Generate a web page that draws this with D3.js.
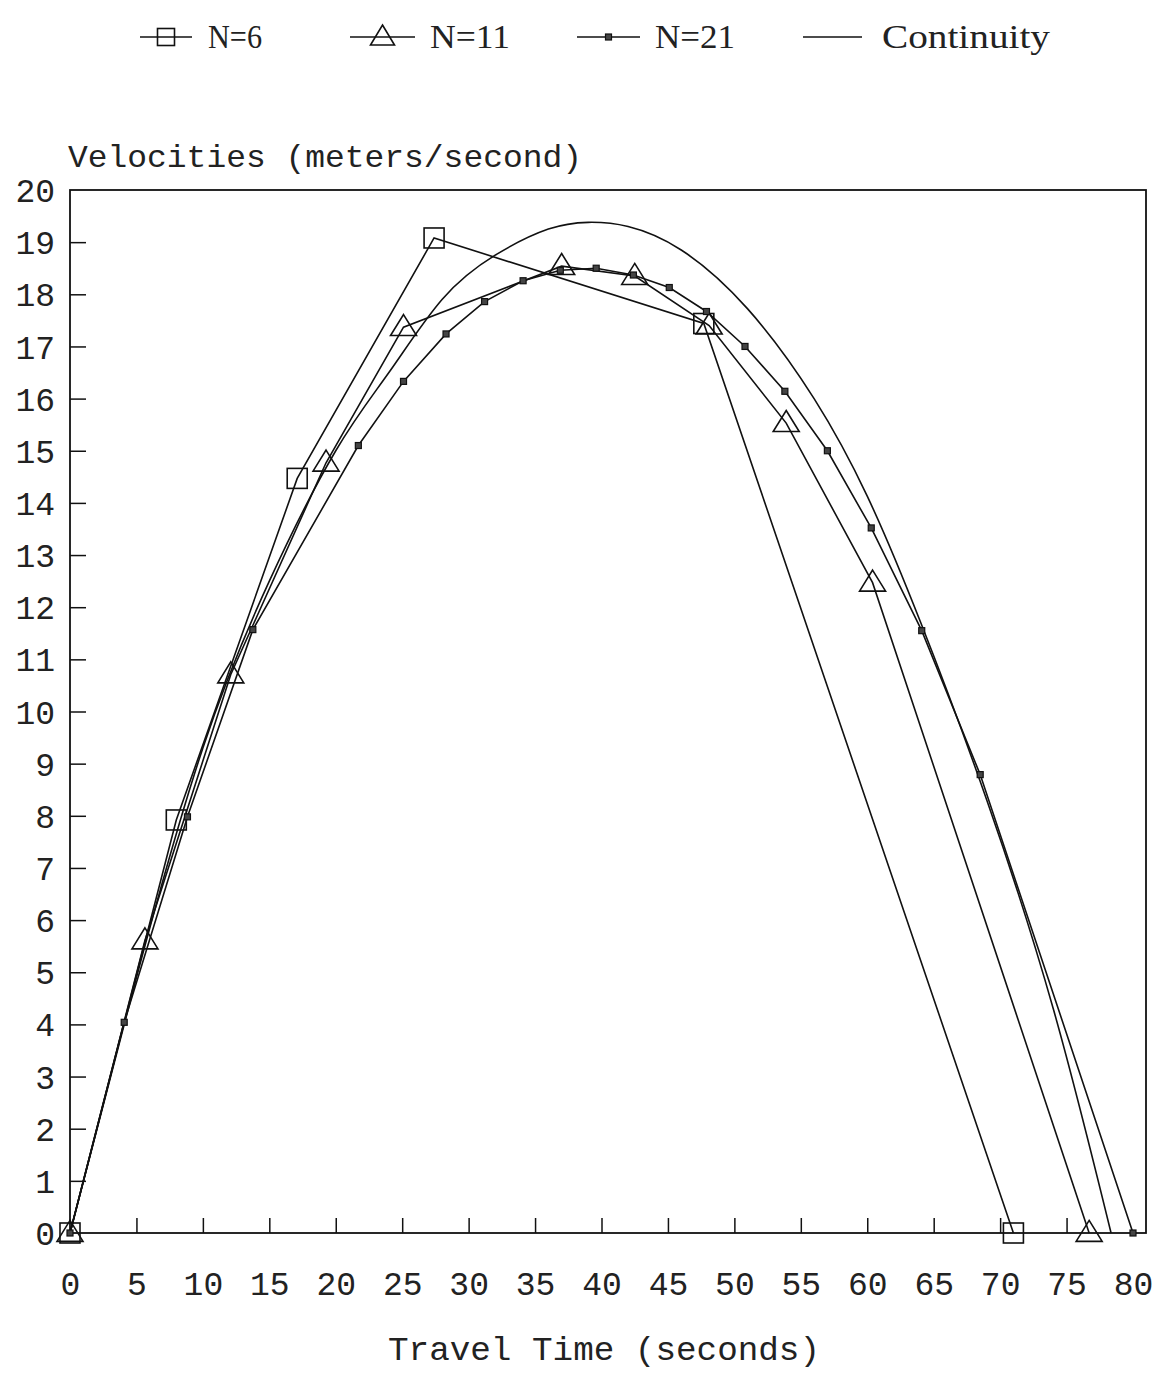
<!DOCTYPE html>
<html>
<head>
<meta charset="utf-8">
<script src="https://cdn.jsdelivr.net/npm/d3@7"></script>
<style>
  html, body { margin: 0; padding: 0; background: #fff; }
  svg { display: block; }
</style>
</head>
<body>
<svg id="chart" width="1169" height="1379"></svg>
<script>
// Travel time (s) and velocity (m/s) for each discretisation
const n6Time  = [0, 8.0, 17.1, 27.4, 47.7, 71.0];
const n6Vel   = [0, 7.92, 14.47, 19.08, 17.44, 0];

const n11Time = [0, 5.64, 12.1, 19.27, 25.1, 37.0, 42.5, 48.1, 53.9, 60.4, 76.7];
const n11Vel  = [0, 5.61, 10.71, 14.77, 17.37, 18.54, 18.35, 17.4, 15.53, 12.47, 0];

const n21Time = [0, 4.08, 8.84, 13.76, 21.7, 25.1, 28.3, 31.2, 34.1, 36.9, 39.6,
                 42.4, 45.1, 47.9, 50.8, 53.8, 57.0, 60.3, 64.1, 68.5, 80.0];
const n21Vel  = [0, 4.04, 7.98, 11.57, 15.1, 16.33, 17.24, 17.86, 18.26, 18.46, 18.5,
                 18.37, 18.13, 17.67, 17.0, 16.14, 15.0, 13.52, 11.55, 8.79, 0];

// Continuous solution
const contTime = [0, 5, 10, 15, 20, 24, 28, 32, 36, 39, 42, 46,
                  51, 56, 60, 64, 69, 74, 78.35];
const contVel  = [0, 4.9, 9.3, 12.5, 15.0, 16.5, 17.9, 18.75, 19.25, 19.38, 19.3, 18.85,
                  17.72, 16.0, 14.13, 11.72, 8.3, 4.3, 0];

const xTicks = d3.range(0, 81, 5);
const yTicks = d3.range(0, 21, 1);
const legendLabels = ["N=6", "N=11", "N=21", "Continuity"];

const svg = d3.select("#chart");
const frameLeft = 70, frameRight = 1146, frameTop = 190, frameBottom = 1233;

const x = d3.scaleLinear().domain([0, 80]).range([frameLeft, 1133]);
const y = d3.scaleLinear().domain([0, 20]).range([frameBottom, frameTop]);

const ink = "#111";
const monoFont = "'Liberation Mono', 'DejaVu Sans Mono', monospace";
const serifFont = "'Liberation Serif', 'DejaVu Serif', serif";

// Frame
svg.append("rect")
  .attr("x", frameLeft).attr("y", frameTop)
  .attr("width", frameRight - frameLeft).attr("height", frameBottom - frameTop)
  .attr("fill", "none").attr("stroke", ink).attr("stroke-width", 1.8);

// X axis: inward ticks, labels below
const xAxis = svg.append("g")
  .attr("transform", `translate(0,${frameBottom})`)
  .call(d3.axisBottom(x).tickValues(xTicks).tickSizeInner(-15).tickSizeOuter(0).tickPadding(40)
        .tickFormat(d3.format("d")));
xAxis.select(".domain").remove();
xAxis.selectAll(".tick line")
  .attr("stroke", ink).attr("stroke-width", 1.5)
  .attr("display", d => (d === 0 || d === 80) ? "none" : null);
xAxis.selectAll(".tick text")
  .attr("font-family", monoFont).attr("font-size", 33).attr("fill", "#222")
  .attr("dy", "0.35em").attr("y", 50);

// Y axis: inward ticks, labels left
const yAxis = svg.append("g")
  .attr("transform", `translate(${frameLeft},0)`)
  .call(d3.axisLeft(y).tickValues(yTicks).tickSizeInner(-16).tickSizeOuter(0).tickPadding(14)
        .tickFormat(d3.format("d")));
yAxis.select(".domain").remove();
yAxis.selectAll(".tick line")
  .attr("stroke", ink).attr("stroke-width", 1.5)
  .attr("display", d => (d === 0 || d === 20) ? "none" : null);
yAxis.selectAll(".tick text")
  .attr("font-family", monoFont).attr("font-size", 33).attr("fill", "#222")
  .attr("x", -15).attr("dy", "0.35em");

// Axis titles
svg.append("text")
  .attr("x", 68).attr("y", 167)
  .attr("font-family", monoFont).attr("font-size", 32).attr("fill", "#222")
  .attr("textLength", 514).attr("lengthAdjust", "spacingAndGlyphs")
  .text("Velocities (meters/second)");

svg.append("text")
  .attr("x", 604).attr("y", 1360).attr("text-anchor", "middle")
  .attr("font-family", monoFont).attr("font-size", 33).attr("fill", "#222")
  .attr("textLength", 432).attr("lengthAdjust", "spacingAndGlyphs")
  .text("Travel Time (seconds)");

// Series lines
const zip = (ts, vs) => ts.map((t, i) => [t, vs[i]]);
const n6 = zip(n6Time, n6Vel);
const n11 = zip(n11Time, n11Vel);
const n21 = zip(n21Time, n21Vel);
const cont = zip(contTime, contVel);

const straight = d3.line().x(d => x(d[0])).y(d => y(d[1]));
const smooth = d3.line().x(d => x(d[0])).y(d => y(d[1])).curve(d3.curveNatural);

const plot = svg.append("g");
plot.append("path").attr("d", smooth(cont))
  .attr("fill", "none").attr("stroke", ink).attr("stroke-width", 1.6);
[n6, n11, n21].forEach(s => {
  plot.append("path").attr("d", straight(s))
    .attr("fill", "none").attr("stroke", ink).attr("stroke-width", 1.6);
});

// Marker shapes
function square(g, cx, cy, s) {
  g.append("rect").attr("x", cx - s / 2).attr("y", cy - s / 2)
    .attr("width", s).attr("height", s)
    .attr("fill", "none").attr("stroke", ink).attr("stroke-width", 1.6);
}
function triangle(g, cx, cy, w, h) {
  g.append("path")
    .attr("d", `M${cx},${cy - h * 0.6}L${cx + w / 2},${cy + h * 0.4}L${cx - w / 2},${cy + h * 0.4}Z`)
    .attr("fill", "none").attr("stroke", ink).attr("stroke-width", 1.6);
}
function dot(g, cx, cy, s) {
  g.append("rect").attr("x", cx - s / 2).attr("y", cy - s / 2)
    .attr("width", s).attr("height", s)
    .attr("fill", "#444").attr("stroke", ink).attr("stroke-width", 1.2);
}

n6.forEach(d => square(plot, x(d[0]), y(d[1]), 20));
n11.forEach(d => triangle(plot, x(d[0]), y(d[1]), 26, 21));
n21.forEach(d => dot(plot, x(d[0]), y(d[1]), 6));

// Legend
const legend = svg.append("g");
const legendItems = [
  { x1: 140, x2: 192, tx: 208, tw: 54, mark: (g, cx, cy) => square(g, cx, cy, 17) },
  { x1: 350, x2: 415, tx: 430, tw: 80, mark: (g, cx, cy) => triangle(g, cx, cy, 24, 20) },
  { x1: 577, x2: 640, tx: 655, tw: 80, mark: (g, cx, cy) => dot(g, cx, cy, 6) },
  { x1: 803, x2: 862, tx: 882, tw: 168, mark: null }
];
legendItems.forEach((it, i) => {
  const ly = 37;
  legend.append("line").attr("x1", it.x1).attr("x2", it.x2).attr("y1", ly).attr("y2", ly)
    .attr("stroke", ink).attr("stroke-width", 1.6);
  if (it.mark) it.mark(legend, (it.x1 + it.x2) / 2, ly);
  legend.append("text")
    .attr("x", it.tx).attr("y", 48)
    .attr("font-family", serifFont).attr("font-size", 34).attr("fill", "#222")
    .attr("textLength", it.tw).attr("lengthAdjust", "spacingAndGlyphs")
    .text(legendLabels[i]);
});
</script>
</body>
</html>
